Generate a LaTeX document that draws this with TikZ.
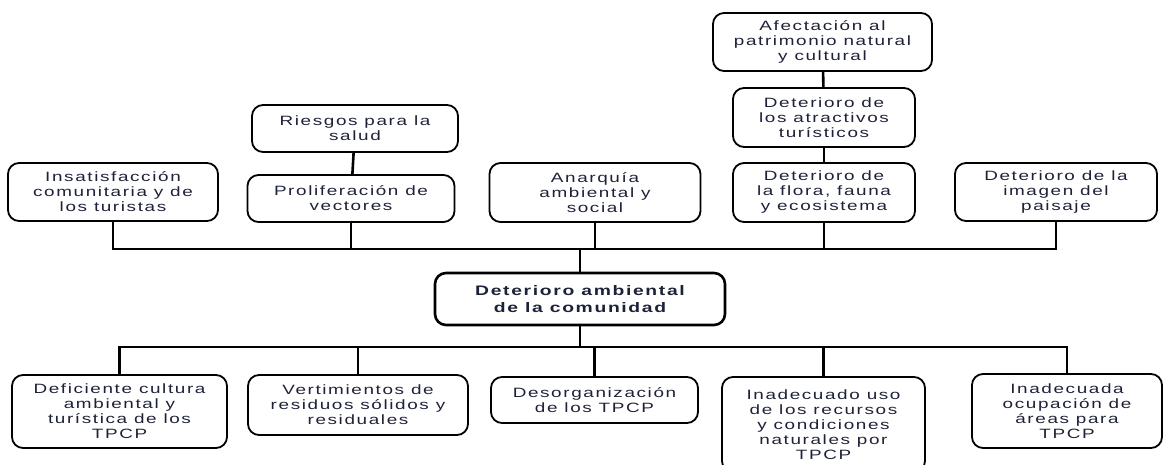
\documentclass[tikz,border=0pt]{standalone}
\usepackage{fontspec}
\setmainfont{Liberation Sans}[FakeStretch=1.4,LetterSpace=12]
\usepackage{tikz}
\usetikzlibrary{positioning}
\definecolor{txtblue}{HTML}{1E2238}

\begin{document}
\begin{tikzpicture}[x=1pt, y=-1pt,
		box/.style={draw, line width=1.8pt, rounded corners=11pt, align=center, text=txtblue, inner sep=2pt, font=\fontsize{13.5}{15}\selectfont},
		conn/.style={line width=2.6pt}]
		\useasboundingbox (0,0) rectangle (1163,464);
			%top row (effects):
			\node[box, minimum width=210pt, minimum height=58pt] (ins) at (113,192) {Insatisfacción\\comunitaria y de\\los turistas};
			\node[box, minimum width=207pt, minimum height=47pt] (prol) at (351,198.5) {Proliferación de\\vectores};
			\node[box, minimum width=206pt, minimum height=47pt] (ries) at (355,128.5) {Riesgos para la\\salud};
			\node[box, minimum width=211pt, minimum height=59pt] (anar) at (595,192.5) {Anarquía\\ambiental y\\social};
			\node[box, minimum width=182pt, minimum height=59pt] (flor) at (824,192.5) {Deterioro de\\la flora, fauna\\y ecosistema};
			\node[box, minimum width=182pt, minimum height=59pt] (atra) at (824,117.5) {Deterioro de\\los atractivos\\turísticos};
			\node[box, minimum width=219pt, minimum height=58pt] (afec) at (822.5,42) {Afectación al\\patrimonio natural\\y cultural};
			\node[box, minimum width=202pt, minimum height=58pt] (imag) at (1056,192) {Deterioro de la\\imagen del\\paisaje};

			%central problem
			\node[box, line width=2.6pt, font=\fontsize{13.8}{17}\selectfont\bfseries, minimum width=290pt, minimum height=52pt] (cent) at (580,299) {Deterioro ambiental\\de la comunidad};

			%bottom row (causes):
			\node[box, minimum width=215pt, minimum height=73pt] (defi) at (119.5,411.5) {Deficiente cultura\\ambiental y\\turística de los\\TPCP};
			\node[box, minimum width=220pt, minimum height=60pt] (vert) at (358,405) {Vertimientos de\\residuos sólidos y\\residuales};
			\node[box, minimum width=207pt, minimum height=46pt] (deso) at (594.5,400) {Desorganización\\de los TPCP};
			\node[box, minimum width=203pt, minimum height=95pt] (inad) at (823.5,424.5) {Inadecuado uso\\de los recursos\\y condiciones\\naturales por\\TPCP};
			\node[box, minimum width=190pt, minimum height=74pt] (ocup) at (1067,411) {Inadecuada\\ocupación de\\áreas para\\TPCP};

			%buses
			\coordinate (tbus) at (0,249);
			\coordinate (bbus) at (0,347);

			%connectors:
			\draw[conn] (ries) -- (prol);
			\draw[conn] (afec) -- (atra);
			\draw[conn] (atra) -- (flor);
			\foreach \n in {ins,prol,anar,flor,imag}
				\draw[conn] (cent.north) |- (\n.south |- tbus) -- (\n.south);
			\foreach \n in {defi,vert,deso,inad,ocup}
				\draw[conn] (cent.south) |- (\n.north |- bbus) -- (\n.north);
	\end{tikzpicture}
\end{document}
